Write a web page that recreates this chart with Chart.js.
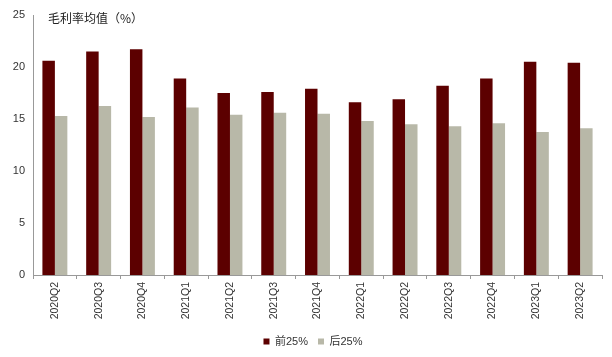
<!DOCTYPE html>
<html><head><meta charset="utf-8">
<script src="https://cdn.jsdelivr.net/npm/chart.js@4"></script>
<style>html,body{margin:0;padding:0;background:#fff}#wrap{width:612px;height:357px;position:relative}</style>
</head><body><div id="wrap"><canvas id="c"></canvas></div>
<script>
const categories = ["2020Q2","2020Q3","2020Q4","2021Q1","2021Q2","2021Q3","2021Q4","2022Q1","2022Q2","2022Q3","2022Q4","2023Q1","2023Q2"];
const top25 = [20.6, 21.5, 21.7, 18.9, 17.5, 17.6, 17.9, 16.6, 16.9, 18.2, 18.9, 20.5, 20.4];
const bottom25 = [15.3, 16.25, 15.2, 16.1, 15.4, 15.6, 15.5, 14.8, 14.5, 14.3, 14.6, 13.75, 14.1];
const seriesNames = ["前25%", "后25%"];
const yTicks = [0, 5, 10, 15, 20, 25];
const titleText = "毛利率均值（%）";

const fontFam = "'Liberation Sans', Arial, 'Noto Sans CJK SC', sans-serif";
const titlePlugin = {
  id: 'innerTitle',
  afterLayout(chart) {
    if (chart.legend) { chart.legend.left += 24; }
  },
  afterDraw(chart) {
    const ctx = chart.ctx, a = chart.chartArea;
    ctx.save();
    ctx.font = "12px 'Noto Sans CJK SC', sans-serif";
    ctx.fillStyle = '#222';
    ctx.textBaseline = 'middle';
    ctx.fillText(titleText, a.left + 15, a.top + 3);
    ctx.restore();
  }
};
new Chart(document.getElementById('c'), {
  type: 'bar',
  data: {
    labels: categories,
    datasets: [
      { label: seriesNames[0], data: top25, backgroundColor: '#5C0000', categoryPercentage: 0.57, barPercentage: 1 },
      { label: seriesNames[1], data: bottom25, backgroundColor: '#B8B8A8', categoryPercentage: 0.57, barPercentage: 1 }
    ]
  },
  options: {
    responsive: true, maintainAspectRatio: false, animation: false,
    layout: { padding: { top: 15, right: 10, left: 0, bottom: 0 } },
    plugins: {
      tooltip: { enabled: false },
      legend: {
        position: 'bottom',
        labels: { boxWidth: 6, boxHeight: 6, padding: 10, color: '#333', font: { size: 11, family: fontFam } }
      }
    },
    scales: {
      x: {
        grid: { display: true, offset: true, drawOnChartArea: false, tickLength: 4, color: '#999' },
        border: { color: '#999', width: 1 },
        ticks: { minRotation: 90, maxRotation: 90, autoSkip: false, color: '#333', font: { size: 10.5, family: fontFam }, padding: 3 },
        afterFit(s) { s.height = 51; }
      },
      y: {
        min: 0, max: 25,
        afterBuildTicks(s) { s.ticks = yTicks.map(v => ({ value: v })); },
        grid: { display: false, drawTicks: false },
        border: { color: '#999', width: 1 },
        ticks: { color: '#333', font: { size: 11, family: fontFam }, padding: 8 },
        afterFit(s) { s.width = 33; }
      }
    }
  },
  plugins: [titlePlugin]
});
</script></body></html>
